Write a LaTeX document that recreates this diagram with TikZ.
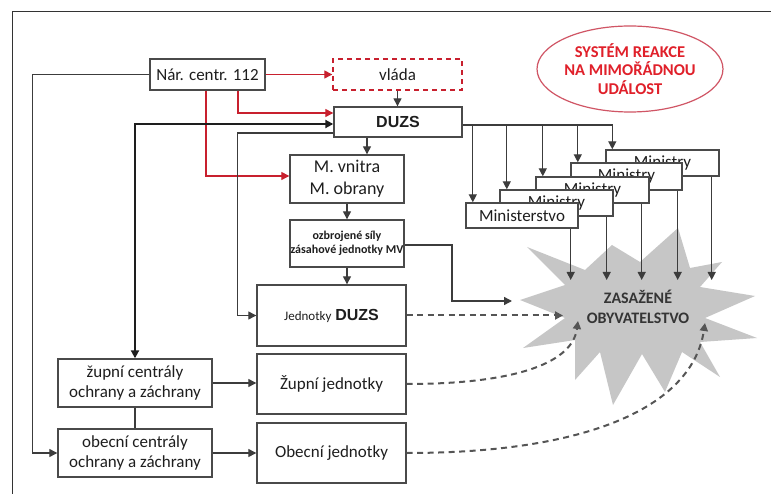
\documentclass[tikz,border=0pt]{standalone}
\usepackage{fontspec}
\setmainfont{Carlito}
\newfontfamily\arialf{Liberation Sans}
\usetikzlibrary{arrows.meta,shapes.geometric}
\definecolor{boxc}{HTML}{4A4A4A}
\definecolor{linec}{HTML}{3C3C3C}
\definecolor{txt}{HTML}{1E1E1E}
\definecolor{redc}{HTML}{C8202E}
\definecolor{ellc}{HTML}{D05565}
\definecolor{redtxt}{HTML}{E0202A}
\definecolor{starc}{HTML}{C6C6C6}
\definecolor{startxt}{HTML}{353535}
\definecolor{dashc}{HTML}{555555}
\definecolor{framec}{HTML}{333333}
\begin{document}
\begin{tikzpicture}[x=1pt,y=-1pt,
  box/.style={draw=boxc, line width=1.4pt, fill=white, inner sep=0pt, align=center, text=txt, font=\fontsize{17}{20.5}\selectfont},
  tip/.style={-{Triangle[length=8pt,width=8pt]}},
  arr/.style={draw=linec, line width=1.3pt, tip},
  redarr/.style={draw=redc, line width=1.3pt, tip},
  dasharr/.style={draw=dashc, line width=2pt, dash pattern=on 6pt off 4.5pt, tip},
  ministry/.style={box, minimum width=113, minimum height=26},
]
\useasboundingbox (0,0) rectangle (771,494);
\fill[white] (0,0) rectangle (771,494);
\draw[framec, line width=1pt] (771,12) -- (12,12) -- (12,494);

% star
\fill[starc] (527,247) -- (585,270) -- (612,245) -- (640,262) -- (678,228) -- (690,268)
  -- (722,262) -- (700,287) -- (755,296) -- (705,318) -- (757,338) -- (700,342)
  -- (720,377) -- (682,352) -- (665,392) -- (642,354) -- (613,405) -- (600,352)
  -- (575,380) -- (575,340) -- (523,348) -- (565,318) -- (520,300) -- (565,285) -- cycle;
\node[text=startxt, align=center, font=\bfseries\fontsize{16}{20}\selectfont] (star) at (638,307) {ZASAŽENÉ\\OBYVATELSTVO};

% title ellipse
\node[ellipse, draw=ellc, line width=1.2pt, minimum width=184, minimum height=86, inner sep=0pt,
  text=redtxt, align=center, font=\bfseries\fontsize{16.5}{18.5}\selectfont] (title) at (630,69)
  {SYSTÉM REAKCE\\NA MIMOŘÁDNOU\\UDÁLOST};

% boxes
\node[box, minimum width=115, minimum height=31] (nar) at (207.5,74.5) {Nár. centr. 112};
\node[box, draw=redc, dash pattern=on 5pt off 4pt, minimum width=129, minimum height=31] (vlada) at (397.5,74.5) {vláda};
\node[box, minimum width=128, minimum height=30, font=\arialf\bfseries\fontsize{16}{18}\selectfont] (duzs) at (398,122) {DUZS};
\node[box, minimum width=114, minimum height=48, font=\fontsize{18}{21.5}\selectfont] (mv) at (347,179) {M. vnitra\\M. obrany};
\node[box, minimum width=114, minimum height=47, font=\bfseries\fontsize{12}{14}\selectfont] (oz) at (347,243.5) {ozbrojené síly\\zásahové jednotky MV};
\node[box, minimum width=149, minimum height=61] (jd) at (331.5,315.5) {{\fontsize{13}{15}\selectfont Jednotky} {\arialf\bfseries\fontsize{16}{18}\selectfont DUZS}};
\node[box, minimum width=149, minimum height=60] (zj) at (331.5,384) {Župní jednotky};
\node[box, minimum width=149, minimum height=60] (oj) at (331.5,453) {Obecní jednotky};
\node[box, minimum width=154, minimum height=48] (zc) at (135,383) {župní centrály\\ochrany a záchrany};
\node[box, minimum width=154, minimum height=48] (oc) at (135,453) {obecní centrály\\ochrany a záchrany};

% ministries (back to front)
\node[ministry] (m5) at (662.5,163) {Ministry};
\node[ministry, minimum height=27, minimum width=111] (m4) at (626.5,176.5) {Ministry};
\node[ministry] (m3) at (592.5,190) {Ministry};
\node[ministry] (m2) at (556.5,203) {Ministry};
\node[ministry, minimum width=112, minimum height=25] (m1) at (522,215.5) {Ministerstvo};

% red connectors
\draw[redarr] (nar.east) -- (vlada.west);
\draw[redarr] ([xshift=30.5]nar.south) |- ([yshift=9]duzs.west);
\draw[redarr] ([xshift=-1.5]nar.south) |- ([yshift=3]mv.west);

% black connectors
\draw[draw=txt, line width=2pt, {Triangle[length=8pt,width=8pt]}-{Triangle[length=8pt,width=8pt]}]
  (zc.north) |- ([yshift=-2]duzs.west);
\draw[arr] ([yshift=-11]duzs.west) -| ([xshift=-19]jd.west) -- (jd.west);
\draw[arr] (nar.west) -| ([xshift=-25]oc.west) -- (oc.west);
\draw[linec, line width=1.3pt] (zc.south) -- (oc.north);
\draw[arr] (zc.east) -- (zc.east -| zj.west);
\draw[arr] (oc.east) -- (oc.east -| oj.west);
\draw[arr] (vlada.south) -- (vlada.south |- duzs.north);
\coordinate (dm) at ([xshift=20]mv.north);
\draw[arr] (dm |- duzs.south) -- (dm);
\draw[arr] (mv.south) -- (oz.north);
\draw[arr] (oz.south) -- (oz.south |- jd.north);
\coordinate (ozend) at (512,301);
\draw[arr] ([yshift=-1.5]oz.east) -| ([xshift=-60]ozend) -- (ozend);

% DUZS to ministries
\coordinate (bus) at ([yshift=-3]duzs.east);
\coordinate (a5) at ([xshift=7]m5.north west);
\draw[arr] (bus) -| (a5);
\foreach \m in {1,2,3,4}{
  \coordinate (a\m) at ([xshift=7.5]m\m.north west);
  \draw[arr] (a\m |- bus) -- (a\m);
}
% ministries to star
\coordinate (st) at (0,280);
\foreach \m/\s in {1/-8,2/-7,3/-8,4/-5,5/-8}{
  \coordinate (b\m) at ([xshift=\s]m\m.south east);
  \draw[arr] (b\m) -- (b\m |- st);
}

% dashed connectors to star
\coordinate (s0) at (563,316);
\coordinate (s1) at (578,321);
\coordinate (s2) at (705,323);
\draw[dasharr] (jd.east) -- (s0 |- jd.east);
\draw[dasharr] (zj.east) .. controls +(100,0) and +(-6,45) .. (s1);
\draw[dasharr] (oj.east) .. controls +(190,0) and +(-12,80) .. (s2);
\end{tikzpicture}
\end{document}
